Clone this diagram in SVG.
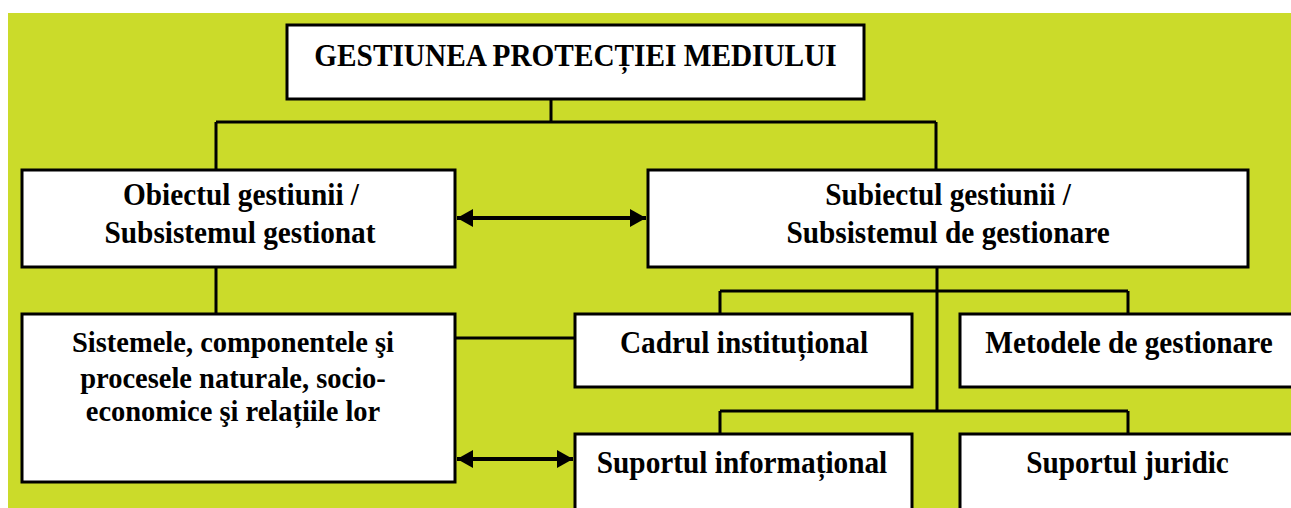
<svg xmlns="http://www.w3.org/2000/svg" width="1291" height="508" viewBox="0 0 1291 508">
<style>
.box{fill:#fff;stroke:#000;stroke-width:3}
.t{font-family:"Liberation Serif","Times New Roman",Tinos,"DejaVu Serif",serif;font-weight:bold;font-size:29.3px;fill:#000;text-anchor:middle}
.s{font-size:28.5px}
.c{stroke:#000;stroke-width:3;fill:none}
.a{stroke:#000;stroke-width:4;fill:none}
</style>
<defs>
<marker id="ah" markerUnits="userSpaceOnUse" markerWidth="18" markerHeight="20" refX="16" refY="10" orient="auto-start-reverse">
<path d="M0,1 L16,10 L0,19 Z" fill="#000"/>
</marker>
</defs>
<rect x="0" y="0" width="1291" height="508" fill="#fff"/>
<rect x="8" y="13" width="1283" height="495" fill="#CBDB2A"/>
<g id="connectors">
<path class="c" d="M551,99 V122 M216,122 H936 M216,122 V170 M936,122 V170"/>
<path class="c" d="M216,267 V314 M455,338 H575"/>
<path class="c" d="M937,267 V411 M720,291 H1128 M720,291 V314 M1128,291 V314 M720,411 H1128 M720,411 V434 M1128,411 V434"/>
<line class="a" x1="457" y1="218" x2="646" y2="218" marker-start="url(#ah)" marker-end="url(#ah)"/>
<line class="a" x1="457" y1="459" x2="573" y2="459" marker-start="url(#ah)" marker-end="url(#ah)"/>
</g>
<g id="n-title">
<rect class="box" x="287" y="25" width="577" height="74"/>
<text class="t" transform="translate(575.5,66) scale(1,1.07)">GESTIUNEA PROTECȚIEI MEDIULUI</text>
</g>
<g id="n-obiect">
<rect class="box" x="22" y="170" width="433" height="97"/>
<text class="t" transform="translate(241,205) scale(1,1.07)">Obiectul gestiunii /</text>
<text class="t" transform="translate(240,243) scale(1,1.07)">Subsistemul gestionat</text>
</g>
<g id="n-subiect">
<rect class="box" x="648" y="170" width="600" height="97"/>
<text class="t" transform="translate(948,205) scale(1,1.07)">Subiectul gestiunii /</text>
<text class="t" transform="translate(948,243) scale(1,1.07)">Subsistemul de gestionare</text>
</g>
<g id="n-sisteme">
<rect class="box" x="22" y="314" width="433" height="168"/>
<text class="t s" transform="translate(233,352) scale(1,1.07)">Sistemele, componentele şi</text>
<text class="t s" transform="translate(233,388) scale(1,1.07)">procesele naturale, socio-</text>
<text class="t s" transform="translate(233,421) scale(1,1.07)">economice şi relațiile lor</text>
</g>
<g id="n-cadrul">
<rect class="box" x="575" y="314" width="337" height="73"/>
<text class="t" transform="translate(744,353) scale(1,1.07)">Cadrul instituțional</text>
</g>
<g id="n-metode">
<rect class="box" x="960" y="314" width="340" height="73"/>
<text class="t" transform="translate(1129,353) scale(1,1.07)">Metodele de gestionare</text>
</g>
<g id="n-info">
<rect class="box" x="575" y="434" width="337" height="80"/>
<text class="t" transform="translate(742,473) scale(1,1.07)">Suportul informațional</text>
</g>
<g id="n-juridic">
<rect class="box" x="960" y="434" width="340" height="80"/>
<text class="t" transform="translate(1127.5,473) scale(1,1.07)">Suportul juridic</text>
</g>
</svg>
